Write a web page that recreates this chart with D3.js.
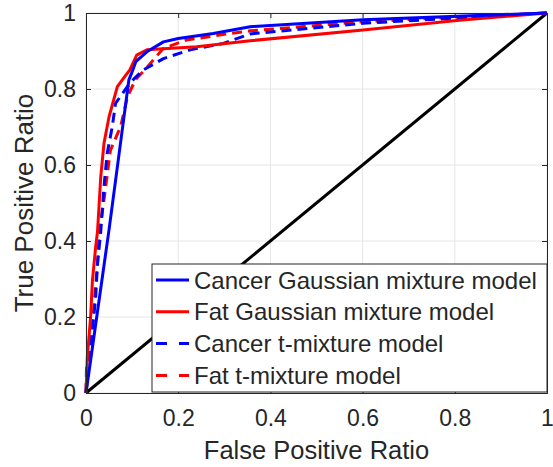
<!DOCTYPE html>
<html>
<head>
<meta charset="utf-8">
<script src="https://cdn.jsdelivr.net/npm/d3@7"></script>
<style>
  body { margin: 0; background: #fff; }
  text { font-family: Arial, "Liberation Sans", sans-serif; fill: #262626; }
</style>
</head>
<body>
<div id="roc"></div>
<script>
let height = 467,
    width = 553,
    margin = ({ top: 13, right: 6, bottom: 74, left: 86 });

// ROC curves: [false positive ratio, true positive ratio]
const cancerGauss = [[0,0],[0.05,0.43],[0.093,0.824],[0.1,0.845],[0.108,0.872],[0.132,0.898],[0.168,0.924],[0.2,0.933],[0.276,0.946],[0.356,0.964],[0.601,0.982],[1,1]];
const fatGauss = [[0,0],[0.003,0.096],[0.010,0.2],[0.014,0.297],[0.021,0.385],[0.025,0.425],[0.032,0.569],[0.039,0.657],[0.050,0.727],[0.068,0.806],[0.086,0.836],[0.095,0.85],[0.11,0.889],[0.132,0.903],[0.24,0.911],[0.356,0.927],[0.601,0.955],[0.804,0.980],[1,1]];
const cancerT = [[0,0],[0.001,0.06],[0.014,0.166],[0.021,0.253],[0.025,0.341],[0.032,0.425],[0.039,0.543],[0.046,0.631],[0.057,0.701],[0.064,0.762],[0.082,0.793],[0.097,0.818],[0.124,0.850],[0.168,0.880],[0.226,0.903],[0.298,0.920],[0.356,0.945],[0.601,0.973],[1,1]];
const fatT = [[0,0],[0.003,0.034],[0.010,0.122],[0.017,0.227],[0.025,0.341],[0.028,0.415],[0.039,0.508],[0.053,0.639],[0.075,0.701],[0.09,0.78],[0.108,0.826],[0.129,0.852],[0.147,0.878],[0.168,0.907],[0.218,0.929],[0.312,0.946],[0.356,0.953],[0.601,0.977],[1,1]];
const chance = [[0,0],[1,1]];

const seriesNames = ["Cancer Gaussian mixture model", "Fat Gaussian mixture model", "Cancer t-mixture model", "Fat t-mixture model"];
const seriesColors = ["#0000ff", "#ff0000", "#0000ff", "#ff0000"];
const seriesDashed = [false, false, true, true];
const seriesData = [cancerGauss, fatGauss, cancerT, fatT];
const tickValues = [0, 0.2, 0.4, 0.6, 0.8, 1];

const svg = d3.select("#roc")
  .append("svg")
  .attr("width", width)
  .attr("height", height);

let x = d3.scaleLinear()
  .domain([0, 1])
  .range([margin.left, width - margin.right]);

let y = d3.scaleLinear()
  .domain([0, 1])
  .range([height - margin.bottom, margin.top]);

// grid
svg.append("g")
  .selectAll("line")
  .data(tickValues)
  .join("line")
  .attr("x1", d => x(d)).attr("x2", d => x(d))
  .attr("y1", y(0)).attr("y2", y(1))
  .attr("stroke", "#e6e6e6");

svg.append("g")
  .selectAll("line")
  .data(tickValues)
  .join("line")
  .attr("y1", d => y(d)).attr("y2", d => y(d))
  .attr("x1", x(0)).attr("x2", x(1))
  .attr("stroke", "#e6e6e6");

let line = d3.line()
  .x(d => x(d[0]))
  .y(d => y(d[1]));

svg.append("path")
  .datum(chance)
  .attr("fill", "none")
  .attr("stroke", "#000")
  .attr("stroke-width", 3)
  .attr("d", line);

// draw in reverse so the solid lines sit on top
for (let i = seriesData.length - 1; i >= 0; i--) {
  svg.append("path")
    .datum(seriesData[i])
    .attr("fill", "none")
    .attr("stroke", seriesColors[i])
    .attr("stroke-width", 3)
    .attr("stroke-dasharray", seriesDashed[i] ? "10,6" : null)
    .attr("stroke-linejoin", "round")
    .attr("d", line);
}

// axes, ticks inside and mirrored
let fmt = d => d === 0 || d === 1 ? d3.format("d")(d) : d3.format(".1f")(d);

let xAxis = svg.append("g")
  .attr("transform", `translate(0,${y(0)})`)
  .call(d3.axisBottom(x).tickValues(tickValues).tickSize(-5).tickPadding(33).tickFormat(fmt));
let yAxis = svg.append("g")
  .attr("transform", `translate(${x(0)},0)`)
  .call(d3.axisLeft(y).tickValues(tickValues).tickSize(-5).tickPadding(10).tickFormat(fmt));
svg.append("g")
  .attr("transform", `translate(0,${y(1)})`)
  .call(d3.axisTop(x).tickValues(tickValues).tickSize(-5).tickFormat(""));
svg.append("g")
  .attr("transform", `translate(${x(1)},0)`)
  .call(d3.axisRight(y).tickValues(tickValues).tickSize(-5).tickFormat(""));

svg.selectAll(".domain, .tick line").attr("stroke", "#262626");
svg.selectAll(".tick text").attr("font-size", 23).attr("fill", "#262626");
xAxis.selectAll(".tick text").attr("dy", "0");

svg.append("text")
  .attr("x", (x(0) + x(1)) / 2)
  .attr("y", 459)
  .attr("text-anchor", "middle")
  .attr("font-size", 25.5)
  .text("False Positive Ratio");

svg.append("text")
  .attr("transform", `translate(33,${(y(0) + y(1)) / 2}) rotate(-90)`)
  .attr("text-anchor", "middle")
  .attr("font-size", 26)
  .text("True Positive Ratio");

// legend
let lg = svg.append("g");
lg.append("rect")
  .attr("x", 152).attr("y", 264)
  .attr("width", 395).attr("height", 128)
  .attr("fill", "#fff")
  .attr("stroke", "#262626");

seriesNames.forEach((name, i) => {
  let ly = 280 + i * 31.8;
  lg.append("line")
    .attr("x1", 156).attr("x2", 189)
    .attr("y1", ly).attr("y2", ly)
    .attr("stroke", seriesColors[i])
    .attr("stroke-width", 3)
    .attr("stroke-dasharray", seriesDashed[i] ? "11,12" : null);
  lg.append("text")
    .attr("x", 194).attr("y", ly)
    .attr("dominant-baseline", "central")
    .attr("font-size", 24)
    .attr("fill", "#000")
    .text(name);
});
</script>
</body>
</html>
